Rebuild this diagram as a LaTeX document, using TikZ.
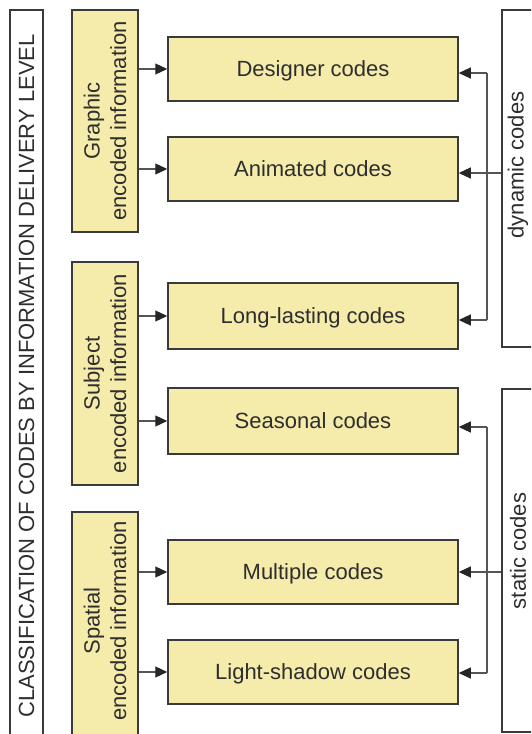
\documentclass[tikz,border=0pt]{standalone}
\usepackage{fontspec}
\setmainfont{Liberation Sans}
\usetikzlibrary{arrows.meta}
\definecolor{boxfill}{HTML}{F5EBAB}
\definecolor{edge}{HTML}{3A3A3A}
\definecolor{ink}{HTML}{2E2E2E}
\definecolor{wire}{HTML}{555555}
\definecolor{tipcol}{HTML}{262626}
\begin{document}
\begin{tikzpicture}[x=1pt,y=-1pt,
  every node/.style={text=ink, font=\fontsize{22}{26.5}\selectfont},
  codebox/.style={draw=edge, line width=1.5pt, fill=boxfill, minimum width=290, minimum height=64, inner sep=0pt, text height=15.8pt, text depth=0pt},
  catbox/.style={draw=edge, line width=1.5pt, fill=boxfill, minimum width=66, inner sep=0pt},
  framebox/.style={draw=edge, line width=1.5pt, fill=white, inner sep=0pt},
  vtext/.style={rotate=90, align=center, inner sep=0pt},
  link/.style={draw=wire, line width=1.1pt, -{Triangle[length=12pt,width=11pt,color=tipcol,fill=tipcol]}},
  wireline/.style={draw=wire, line width=1.1pt}]
\useasboundingbox (0,0) rectangle (531,734);
\clip (0,0) rectangle (531,734);

% title frame on the left
\node[framebox, minimum width=33, minimum height=732] (titlebox) at (26.5,376) {};
\node[vtext] (titletext) at (titlebox.center) {CLASSIFICATION OF CODES BY INFORMATION DELIVERY LEVEL};

% category boxes
\node[catbox, minimum height=222] (graphic) at (105,121) {};
\node[vtext] (graphictext) at (graphic.center) {Graphic\\encoded information};
\node[catbox, minimum height=223] (subject) at (105,373.5) {};
\node[vtext] (subjecttext) at (subject.center) {Subject\\encoded information};
\node[catbox, minimum height=224] (spatial) at (105,624) {};
\node[vtext] (spatialtext) at (105,621) {Spatial\\encoded information};

% code boxes
\node[codebox] (designer) at (313,69) {Designer codes};
\node[codebox] (animated) at (313,169) {Animated codes};
\node[codebox, minimum height=66] (longlasting) at (313,316) {Long-lasting codes};
\node[codebox, minimum height=66] (seasonal) at (313,421) {Seasonal codes};
\node[codebox] (multiple) at (313,572) {Multiple codes};
\node[codebox] (lightshadow) at (313,672) {Light-shadow codes};

% dynamic / static frames on the right
\node[framebox, minimum width=32, minimum height=337] (dynamic) at (518,178.5) {};
\node[vtext] (dynamictext) at (518,165) {dynamic codes};
\node[framebox, minimum width=32, minimum height=343] (static) at (518,560.5) {};
\node[vtext] (statictext) at (518,551) {static codes};

% category -> code arrows
\draw[link] (designer.west -| graphic.east) -- (designer.west);
\draw[link] (animated.west -| graphic.east) -- (animated.west);
\draw[link] (longlasting.west -| subject.east) -- (longlasting.west);
\draw[link] (seasonal.west -| subject.east) -- (seasonal.west);
\draw[link] (multiple.west -| spatial.east) -- (multiple.west);
\draw[link] (lightshadow.west -| spatial.east) -- (lightshadow.west);

% dynamic codes bracket
\coordinate (dtop) at (487,73);
\coordinate (dbot) at (487,320);
\draw[wireline] (dtop) -- (dbot);
\draw[link] (dtop) -- (dtop -| designer.east);
\draw[link] (dbot) -- (dbot -| longlasting.east);
\draw[link] ([yshift=-4pt]dynamic.west |- animated.east) -- ([yshift=-4pt]animated.east);

% static codes bracket
\coordinate (stop) at (487,427);
\coordinate (sbot) at (487,673);
\draw[wireline] (stop) -- (sbot);
\draw[link] (stop) -- (stop -| seasonal.east);
\draw[link] (sbot) -- (sbot -| lightshadow.east);
\draw[link] (static.west |- multiple.east) -- (multiple.east);
\end{tikzpicture}
\end{document}
